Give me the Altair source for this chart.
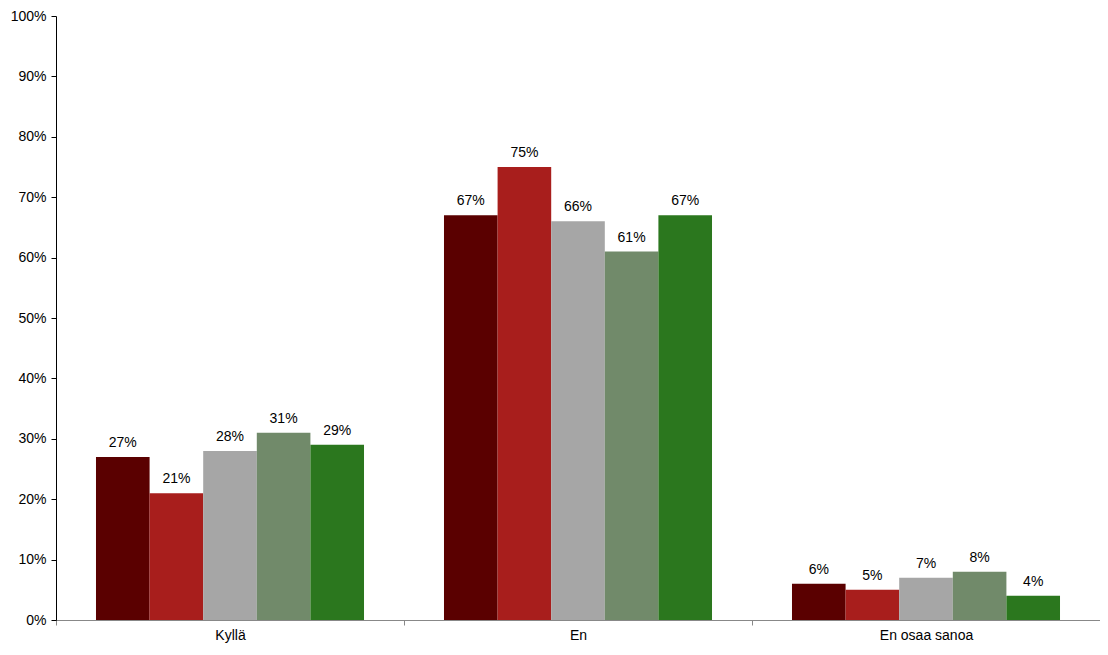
import altair as alt
import pandas as pd

categories = ["Kyllä", "En", "En osaa sanoa"]
series = ["Sarja 1", "Sarja 2", "Sarja 3", "Sarja 4", "Sarja 5"]
values_kylla = [27, 21, 28, 31, 29]
values_en = [67, 75, 66, 61, 67]
values_eos = [6, 5, 7, 8, 4]
colors = ["#5a0000", "#a81e1c", "#a6a6a6", "#718a6a", "#2b771e"]

rows = []
for cat, vals in zip(categories, [values_kylla, values_en, values_eos]):
    for s, v in zip(series, vals):
        rows.append({"cat": cat, "series": s, "value": v / 100})
df = pd.DataFrame(rows)

x = alt.X("cat:N", sort=categories, title=None,
          scale=alt.Scale(paddingInner=0, paddingOuter=0),
          axis=alt.Axis(labelAngle=0, tickBand="extent", domainColor="#888888",
                        tickColor="#888888", labelFont="Liberation Sans",
                        labelFontSize=14, labelColor="black", labelPadding=3))
xo = alt.XOffset("series:N", sort=series,
                 scale=alt.Scale(paddingInner=0, paddingOuter=0.746))
y = alt.Y("value:Q", title=None,
          scale=alt.Scale(domain=[0, 1]),
          axis=alt.Axis(format=".0%", values=[i / 10 for i in range(11)], grid=False,
                        domainColor="black", tickColor="black",
                        labelFont="Liberation Sans", labelFontSize=14,
                        labelColor="black", labelPadding=5))

bars = alt.Chart(df).mark_bar().encode(
    x=x, xOffset=xo, y=y,
    color=alt.Color("series:N", sort=series,
                    scale=alt.Scale(domain=series, range=colors), legend=None),
)
labels = alt.Chart(df).mark_text(dy=-14, font="Liberation Sans", fontSize=14,
                                 color="black").encode(
    x=x, xOffset=xo, y=y,
    text=alt.Text("value:Q", format=".0%"),
)

chart = alt.layer(bars, labels).properties(
    width=1044, height=604,
    autosize=alt.AutoSizeParams(type="none"),
    padding={"left": 48, "top": 8, "right": 0, "bottom": 30},
).configure_view(stroke=None)

chart.save("out.html", embed_options={"renderer": "svg", "actions": False})
